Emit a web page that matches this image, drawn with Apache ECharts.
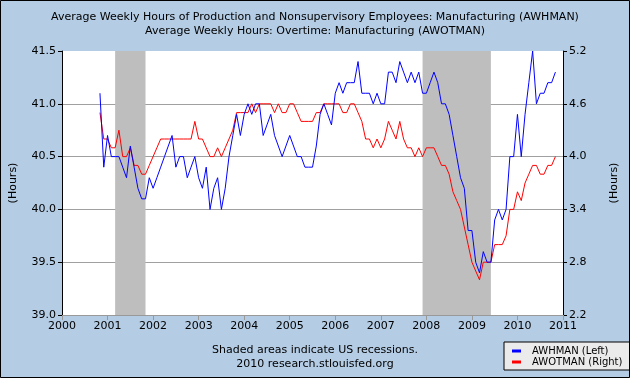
<!DOCTYPE html>
<html><head><meta charset="utf-8">
<script src="https://cdn.jsdelivr.net/npm/echarts@6/dist/echarts.min.js"></script>
<style>html,body{margin:0;padding:0;background:#B4CCE4}#c{width:630px;height:378px}</style>
</head><body><div id="c"></div><script>
// first monthly observation
const firstMonth = '2000-11';
// AWHMAN (left axis, hours)
const awhman = [
41.1,40.4,40.7,40.5,40.5,40.5,40.4,40.3,40.6,40.4,40.2,40.1,40.1,40.3,40.2,40.3,40.4,40.5,40.6,40.7,
40.4,40.5,40.5,40.3,40.4,40.5,40.3,40.2,40.4,40.0,40.2,40.3,40.0,40.2,40.5,40.7,40.9,40.7,40.9,41.0,
40.9,41.0,41.0,40.7,40.8,40.9,40.7,40.6,40.5,40.6,40.7,40.6,40.5,40.5,40.4,40.4,40.4,40.6,40.9,41.0,
40.9,40.8,41.1,41.2,41.1,41.2,41.2,41.2,41.4,41.1,41.1,41.1,41.0,41.1,41.0,41.0,41.3,41.3,41.2,41.4,
41.3,41.2,41.3,41.2,41.3,41.1,41.1,41.2,41.3,41.2,41.0,41.0,40.9,40.7,40.5,40.3,40.2,39.8,39.8,39.5,
39.4,39.6,39.5,39.5,39.9,40.0,39.9,40.0,40.5,40.5,40.9,40.5,40.9,41.2,41.5,41.0,41.1,41.1,41.2,41.2,
41.3
];
// AWOTMAN (right axis, hours)
const awotman = [
4.5,4.2,4.2,4.1,4.1,4.3,4.0,4.0,4.1,3.9,3.9,3.8,3.8,3.9,4.0,4.1,4.2,4.2,4.2,4.2,
4.2,4.2,4.2,4.2,4.2,4.4,4.2,4.2,4.1,4.0,4.0,4.1,4.0,4.1,4.2,4.3,4.5,4.5,4.5,4.5,
4.6,4.5,4.6,4.6,4.6,4.6,4.5,4.6,4.5,4.5,4.6,4.6,4.5,4.4,4.4,4.4,4.4,4.5,4.5,4.6,
4.6,4.6,4.6,4.6,4.5,4.5,4.6,4.6,4.5,4.4,4.2,4.2,4.1,4.2,4.1,4.2,4.4,4.3,4.2,4.4,
4.2,4.1,4.1,4.0,4.1,4.0,4.1,4.1,4.1,4.0,3.9,3.9,3.8,3.6,3.5,3.4,3.2,3.0,2.8,2.7,
2.6,2.8,2.8,2.8,3.0,3.0,3.0,3.1,3.4,3.4,3.6,3.5,3.7,3.8,3.9,3.9,3.8,3.8,3.9,3.9,
4.0
];
const recessions = [['2001-03','2001-11'],['2007-12','2009-06']];
const rightTicks = [2.2,2.8,3.4,4.0,4.6,5.2];

function toYear(s){const p=s.split('-').map(Number);return p[0]+(p[1]-1)/12;}
const x0 = toYear(firstMonth);
const xs = awhman.map((_,i)=> x0 + i/12);
const blueData = awhman.map((v,i)=>[xs[i],v]);
const redData = awotman.map((v,i)=>[xs[i],v]);
const font = 'DejaVu Sans';

const chart = echarts.init(document.getElementById('c'), null, {renderer:'canvas'});
chart.setOption({
  animation:false,
  backgroundColor:'#B4CCE4',
  textStyle:{fontFamily:font},
  title:{
    text:'Average Weekly Hours of Production and Nonsupervisory Employees: Manufacturing (AWHMAN)\nAverage Weekly Hours: Overtime: Manufacturing (AWOTMAN)',
    left:'center', top:5,
    textStyle:{fontSize:11,fontWeight:'normal',color:'#000',lineHeight:14,fontFamily:font}
  },
  grid:{left:60,right:67,top:51,bottom:63,show:true,backgroundColor:'#fff',borderWidth:0},
  legend:{
    data:['AWHMAN (Left)','AWOTMAN (Right)'],
    orient:'vertical', left:504, top:342,
    backgroundColor:'#ebebeb', borderColor:'#000', borderWidth:1, borderRadius:0,
    padding:[4,8,3,8], itemGap:1, itemWidth:9, itemHeight:3, icon:'rect',
    textStyle:{fontSize:10,color:'#000',fontFamily:font,padding:[0,0,0,6]}
  },
  xAxis:{
    type:'value', min:2000, max:2011, interval:1,
    axisLine:{show:true,lineStyle:{color:'#999'}},
    axisTick:{show:true,length:5,lineStyle:{color:'#999'}},
    axisLabel:{color:'#000',fontSize:11,margin:6,formatter:v=>String(v),fontFamily:font},
    splitLine:{show:false}
  },
  yAxis:[{
    type:'value', min:39, max:41.5, interval:0.5, position:'left',
    name:'(Hours)', nameLocation:'middle', nameGap:43, nameRotate:90,
    nameTextStyle:{fontSize:11,color:'#000',fontFamily:font},
    axisLine:{show:true,lineStyle:{color:'#000'}},
    axisTick:{show:true,length:4,lineStyle:{color:'#000'}},
    axisLabel:{color:'#000',fontSize:11,margin:6,formatter:v=>v.toFixed(1),fontFamily:font},
    splitLine:{show:true,showMinLine:false,showMaxLine:false,lineStyle:{color:'#a0a0a0',width:1}}
  },{
    type:'value', min:2.2, max:5.2, position:'right',
    name:'(Hours)', nameLocation:'middle', nameGap:46, nameRotate:90,
    nameTextStyle:{fontSize:11,color:'#000',fontFamily:font},
    axisLine:{show:true,lineStyle:{color:'#000'}},
    axisTick:{show:true,length:4,lineStyle:{color:'#000'},customValues:rightTicks},
    axisLabel:{color:'#000',fontSize:11,margin:6,formatter:v=>v.toFixed(1),customValues:rightTicks,fontFamily:font},
    splitLine:{show:false}
  }],
  series:[{
    name:'AWHMAN (Left)', type:'line', yAxisIndex:0, data:blueData,
    symbol:'none', color:'#0000ff', lineStyle:{width:1,color:'#0000ff'}, z:4,
    markArea:{silent:true,itemStyle:{color:'#bebebe'},
      data:recessions.map(r=>[{xAxis:toYear(r[0])},{xAxis:toYear(r[1])}])}
  },{
    name:'AWOTMAN (Right)', type:'line', yAxisIndex:1, data:redData,
    symbol:'none', color:'#ff0000', lineStyle:{width:1,color:'#ff0000'}, z:3
  }],
  graphic:[
    {type:'text',left:'center',top:345,style:{text:'Shaded areas indicate US recessions.',font:'11px "DejaVu Sans"',fill:'#000'}},
    {type:'text',left:'center',top:359,style:{text:'2010 research.stlouisfed.org',font:'11px "DejaVu Sans"',fill:'#000'}},
    {type:'rect',shape:{x:0.5,y:0.5,width:629,height:377},style:{fill:null,stroke:'#000',lineWidth:1},z:100}
  ]
});
</script></body></html>
